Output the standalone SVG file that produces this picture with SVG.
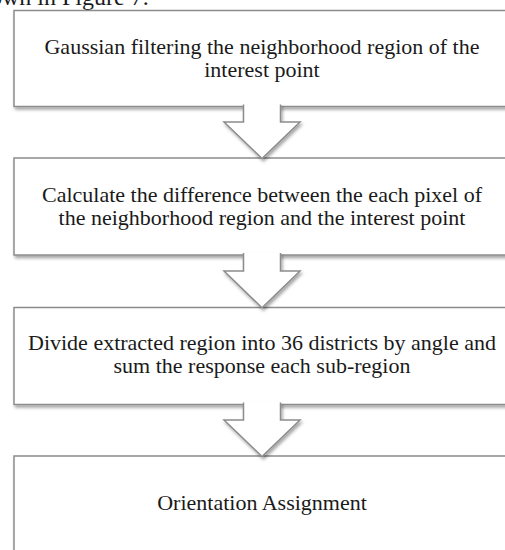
<svg xmlns="http://www.w3.org/2000/svg" width="505" height="550" viewBox="0 0 505 550">
  <defs>
    <filter id="shadow" x="-10%" y="-20%" width="130%" height="150%">
      <feDropShadow dx="1.5" dy="2.5" stdDeviation="1.6" flood-color="#000" flood-opacity="0.35"/>
    </filter>
    <style>
      .box { fill: #ffffff; stroke: #8c8c8c; stroke-width: 1.5; }
      .arrow { fill: #ffffff; stroke: #8c8c8c; stroke-width: 1.5; stroke-linejoin: miter; }
      .label { font-family: "Liberation Serif", "Times New Roman", serif; font-size: 22px; fill: #1a1a1a; text-anchor: middle; }
      .caption { font-family: "Liberation Serif", "Times New Roman", serif; font-size: 24px; fill: #1a1a1a; }
    </style>
  </defs>

  <rect width="505" height="550" fill="#ffffff"/>

  <!-- running text above the figure -->
  <text class="caption" x="-10" y="5">own in Figure 7.</text>

  <g id="nodes">
    <g id="step1">
      <rect class="box" x="14" y="10.5" width="500" height="96" filter="url(#shadow)"/>
      <text class="label" x="262" y="54">Gaussian filtering the neighborhood region of the</text>
      <text class="label" x="262" y="77">interest point</text>
    </g>
    <g id="step2">
      <rect class="box" x="14" y="158" width="500" height="97" filter="url(#shadow)"/>
      <text class="label" x="262" y="201.5">Calculate the difference between the each pixel of</text>
      <text class="label" x="262" y="225">the neighborhood region and the interest point</text>
    </g>
    <g id="step3">
      <rect class="box" x="14" y="307.5" width="500" height="97" filter="url(#shadow)"/>
      <text class="label" x="262" y="350">Divide extracted region into 36 districts by angle and</text>
      <text class="label" x="262" y="373">sum the response each sub-region</text>
    </g>
    <g id="step4">
      <rect class="box" x="14" y="456" width="500" height="120" filter="url(#shadow)"/>
      <text class="label" x="262" y="510">Orientation Assignment</text>
    </g>
  </g>

  <g id="connectors">
    <!-- open paths: fill covers the box edge, stroke leaves the top open -->
    <path class="arrow" filter="url(#shadow)" d="M243.5,104.5 L243.5,122 L224,122 L262,158.5 L300,122 L280.5,122 L280.5,104.5"/>
    <path class="arrow" filter="url(#shadow)" d="M243.5,253 L243.5,271 L224,271 L262,307.8 L300,271 L280.5,271 L280.5,253"/>
    <path class="arrow" filter="url(#shadow)" d="M243.5,402.5 L243.5,420 L224,420 L262,456.5 L300,420 L280.5,420 L280.5,402.5"/>
  </g>
</svg>
